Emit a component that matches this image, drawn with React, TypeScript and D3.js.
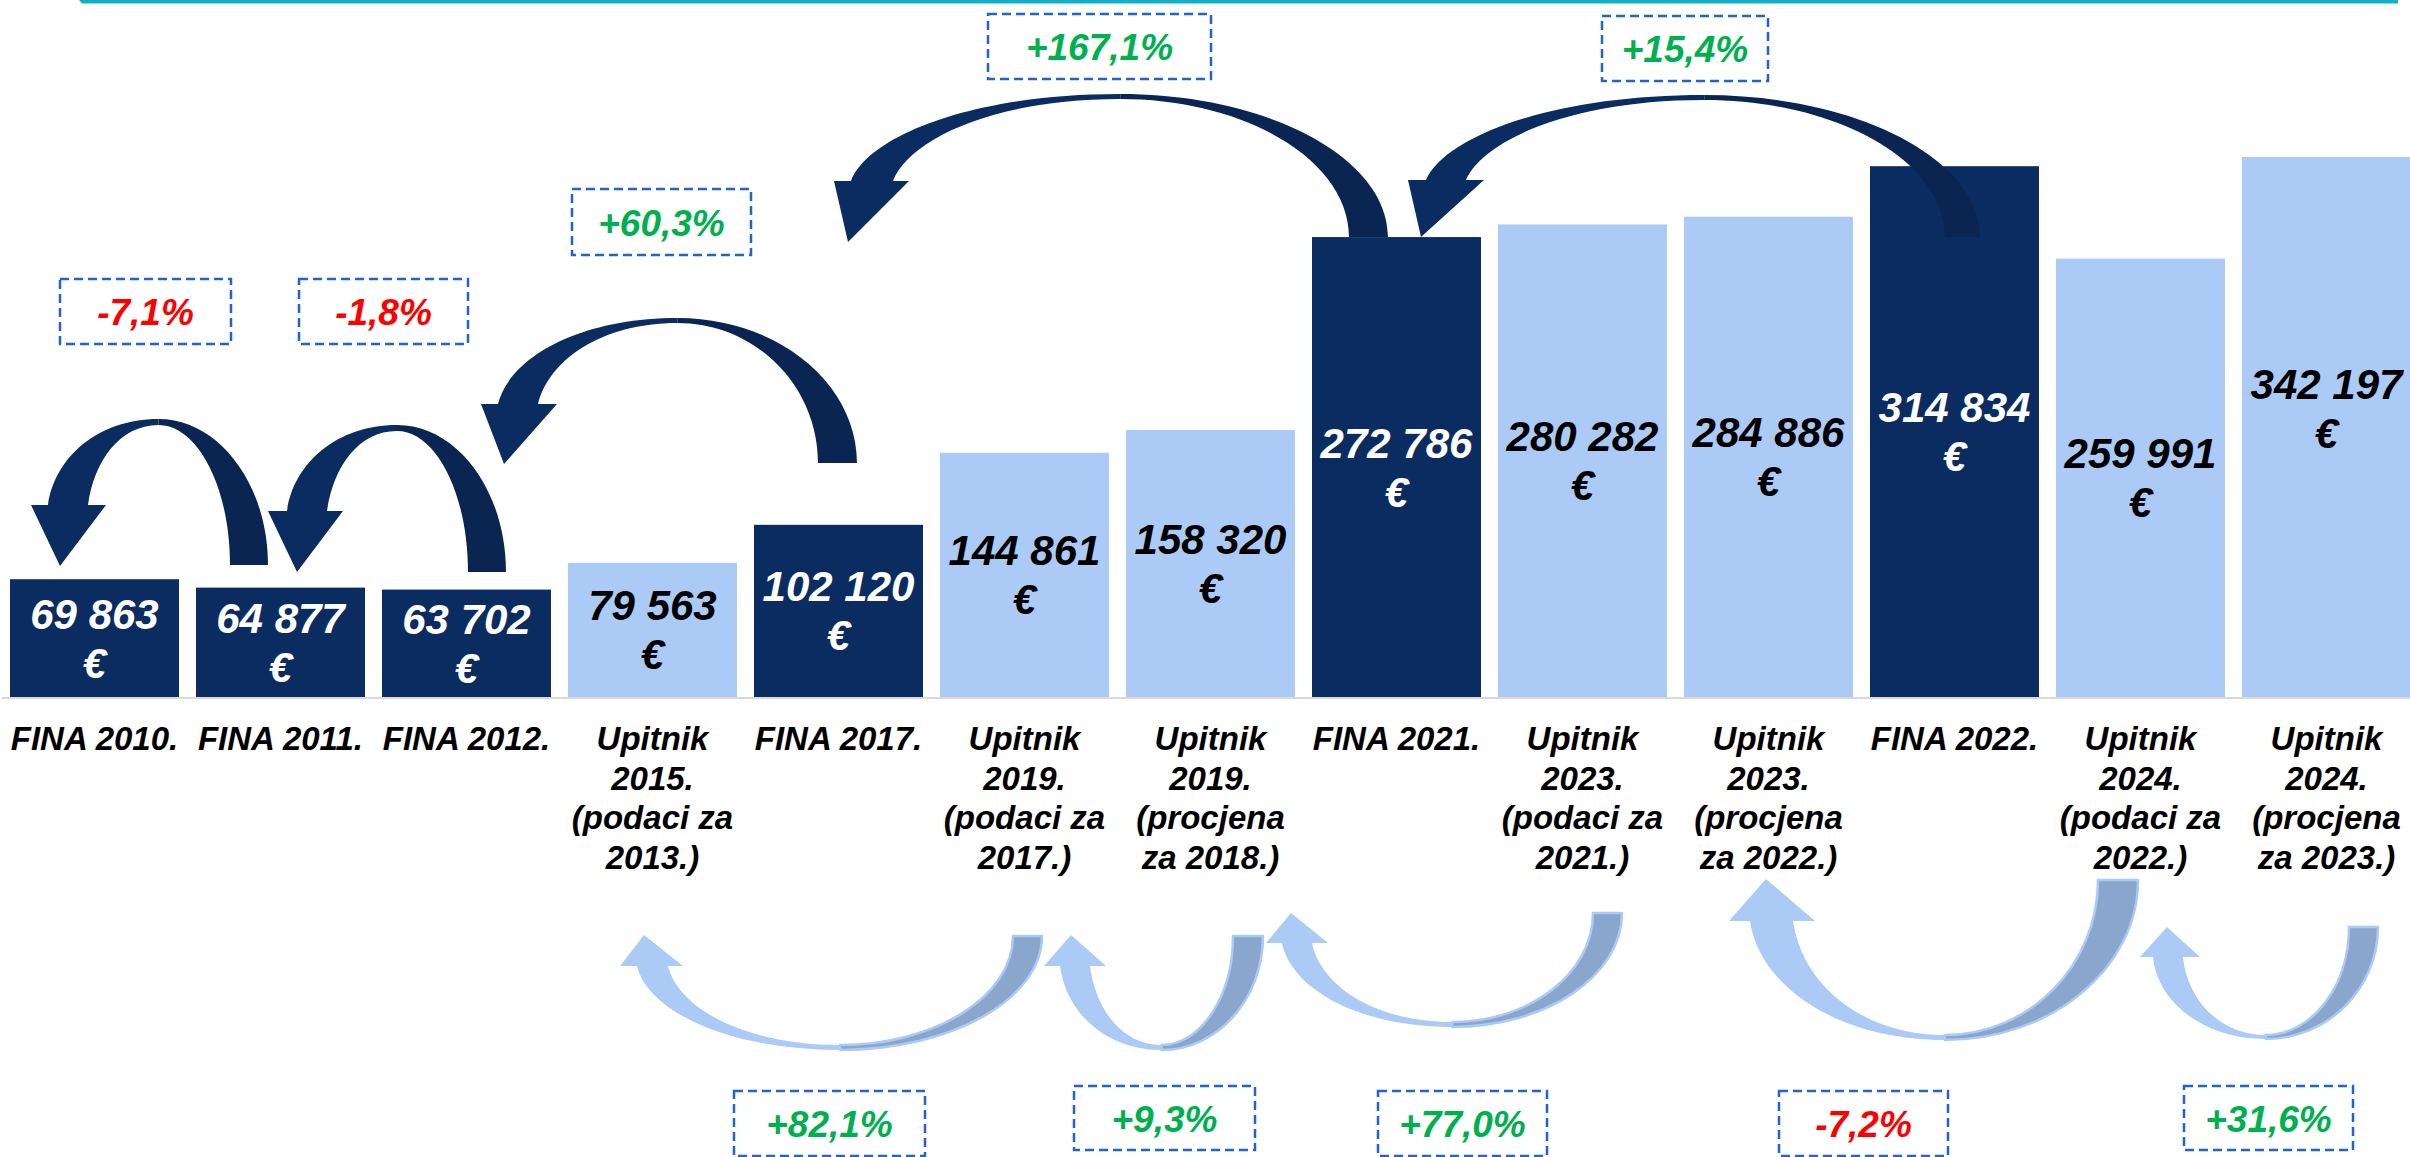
import React from "react";
import * as d3 from "d3";

// ---------- DATA ----------
const categoryLines: string[][] = [
  ["FINA 2010."],
  ["FINA 2011."],
  ["FINA 2012."],
  ["Upitnik", "2015.", "(podaci za", "2013.)"],
  ["FINA 2017."],
  ["Upitnik", "2019.", "(podaci za", "2017.)"],
  ["Upitnik", "2019.", "(procjena", "za 2018.)"],
  ["FINA 2021."],
  ["Upitnik", "2023.", "(podaci za", "2021.)"],
  ["Upitnik", "2023.", "(procjena", "za 2022.)"],
  ["FINA 2022."],
  ["Upitnik", "2024.", "(podaci za", "2022.)"],
  ["Upitnik", "2024.", "(procjena", "za 2023.)"],
];
const sources = ["FINA", "FINA", "FINA", "Upitnik", "FINA", "Upitnik", "Upitnik", "FINA", "Upitnik", "Upitnik", "FINA", "Upitnik", "Upitnik"];
const values = [69863, 64877, 63702, 79563, 102120, 144861, 158320, 272786, 280282, 284886, 314834, 259991, 342197];
// bar heights as drawn in the picture (last bar is drawn shorter than its label)
const barValues = [69863, 64877, 63702, 79563, 102120, 144861, 158320, 272786, 280282, 284886, 314834, 259991, 320300];

// change arrows: from -> to, with their labels
const topArrows = [
  { from: 1, to: 0, label: "-7,1%" },
  { from: 2, to: 1, label: "-1,8%" },
  { from: 4, to: 2, label: "+60,3%" },
  { from: 7, to: 4, label: "+167,1%" },
  { from: 10, to: 7, label: "+15,4%" },
];
const bottomArrows = [
  { from: 5, to: 3, label: "+82,1%" },
  { from: 6, to: 5, label: "+9,3%" },
  { from: 8, to: 6, label: "+77,0%" },
  { from: 11, to: 9, label: "-7,2%" },
  { from: 12, to: 11, label: "+31,6%" },
];

// ---------- LAYOUT (annotation placement, offsets from bar centres) ----------
const topLayout = [
  { tIn: -50.5, tOut: -12.5, tY: 565, mO: 419, mI: 425, sOut: -46.5, sIn: -6.5, hY: 505, wL: -63.5, wR: 11.5, tipDx: -34.5, tipY: 566, box: [145.5, 311.5, 171, 65] },
  { tIn: 1.5, tOut: 39.5, tY: 572, mO: 425, mI: 431, sOut: 6.5, sIn: 46.5, hY: 511, wL: -12.5, wR: 62.5, tipDx: 16.5, tipY: 572, box: [383.5, 311.5, 169, 65] },
  { tIn: -20.5, tOut: 18.5, tY: 463, mO: 318, mI: 323, sOut: 31.5, sIn: 71.5, hY: 404, wL: 14.5, wR: 90.5, tipDx: 37.5, tipY: 464, box: [661.5, 222, 179, 66] },
  { tIn: -47.5, tOut: -8.5, tY: 237, mO: 94, mI: 99, sOut: 12.5, sIn: 54.5, hY: 181, wL: -4.5, wR: 70.5, tipDx: 9.5, tipY: 242, box: [1099.5, 46.5, 223, 65] },
  { tIn: -9.5, tOut: 25.5, tY: 237, mO: 95, mI: 100, sOut: 29.5, sIn: 69.5, hY: 180, wL: 11.5, wR: 87.5, tipDx: 24.5, tipY: 237, box: [1685, 48.5, 166, 65] },
];
const bottomLayout = [
  { tIn: -11.5, tOut: 17.5, tY: 936, mO: 1050, mI: 1045, sOut: -15.5, sIn: 15.5, hY: 966, wL: -32.5, wR: 30.5, tipDx: -8.5, tipY: 935, box: [829.5, 1123.5, 191, 65] },
  { tIn: 22.5, tOut: 52.5, tY: 936, mO: 1050, mI: 1045, sOut: 35.5, sIn: 65.5, hY: 966, wL: 19.5, wR: 81.5, tipDx: 46.5, tipY: 935, box: [1164.5, 1118, 181, 64] },
  { tIn: 10.5, tOut: 39.5, tY: 913, mO: 1027, mI: 1022, sOut: 71.5, sIn: 101.5, hY: 943, wL: 55.5, wR: 117.5, tipDx: 80.5, tipY: 913, box: [1462.5, 1123.5, 169, 65] },
  { tIn: -42.5, tOut: -2.5, tY: 880, mO: 1040, mI: 1035, sOut: -18.5, sIn: 24.5, hY: 921, wL: -39.5, wR: 46.5, tipDx: -2.5, tipY: 879, box: [1863.5, 1123.5, 169, 65] },
  { tIn: 22.5, tOut: 51.5, tY: 927, mO: 1039, mI: 1035, sOut: 12.5, sIn: 42.5, hY: 957, wL: -0.5, wR: 59.5, tipDx: 26.5, tipY: 927, box: [2268.5, 1118, 169, 64] },
];

const W = 2410;
const H = 1157;
const BASE = 697;
const DARK = "#0b2c60";
const DARK_BACK = "#0a2551";
const LIGHT = "#abcaf6";
const LIGHT_BACK = "#8ba6cc";
const FONT = "'Liberation Sans', Arial, sans-serif";

function ribbon(g: any) {
  const k = 0.5523;
  const midX = g.midX;
  const back = d3.path();
  back.moveTo(g.tailOut, g.tailY);
  back.bezierCurveTo(g.tailOut, g.tailY + (g.mO - g.tailY) * k, midX + (g.tailOut - midX) * k, g.mO, midX, g.mO);
  back.lineTo(midX, g.mI);
  back.bezierCurveTo(midX + (g.tailIn - midX) * k, g.mI, g.tailIn, g.tailY + (g.mI - g.tailY) * k, g.tailIn, g.tailY);
  back.closePath();

  const bc = (g.wingL + g.wingR) / 2;
  let dx = g.tipX - bc;
  let dy = g.tipY - g.hY;
  const len = Math.hypot(dx, dy);
  dx /= len;
  dy /= len;
  const hO = Math.abs(g.hY - g.mO) * k;
  const hI = Math.abs(g.hY - g.mI) * k;
  const front = d3.path();
  front.moveTo(g.shaftOut, g.hY);
  front.bezierCurveTo(g.shaftOut - dx * hO, g.hY - dy * hO, midX - (midX - g.shaftOut) * k, g.mO, midX, g.mO);
  front.lineTo(midX, g.mI);
  front.bezierCurveTo(midX - (midX - g.shaftIn) * k, g.mI, g.shaftIn - dx * hI, g.hY - dy * hI, g.shaftIn, g.hY);
  front.lineTo(g.wingR, g.hY);
  front.lineTo(g.tipX, g.tipY);
  front.lineTo(g.wingL, g.hY);
  front.closePath();
  return { back: back.toString(), front: front.toString() };
}

export default function App() {
  const x = d3
    .scaleBand<number>()
    .domain(d3.range(values.length))
    .range([1.5, 2419.5])
    .paddingInner(0.0914)
    .paddingOuter(0.0457);
  const y = d3.scaleLinear().domain([0, 400000]).range([BASE, BASE - 674.4]);
  const bw = x.bandwidth();
  const cx = (i: number) => (x(i) as number) + bw / 2;
  const fmt = (v: number) => d3.format(",")(v).replace(/,/g, " ");

  const buildArrow = (a: any, l: any) => {
    const fc = cx(a.from);
    const tc = cx(a.to);
    const tailIn = fc + l.tIn;
    const tailOut = fc + l.tOut;
    const shaftOut = tc + l.sOut;
    const shaftIn = tc + l.sIn;
    const midX = ((tailIn + tailOut) / 2 + (shaftOut + shaftIn) / 2) / 2;
    return ribbon({
      tailIn,
      tailOut,
      tailY: l.tY,
      mO: l.mO,
      mI: l.mI,
      midX,
      shaftOut,
      shaftIn,
      hY: l.hY,
      wingL: tc + l.wL,
      wingR: tc + l.wR,
      tipX: tc + l.tipDx,
      tipY: l.tipY,
    });
  };

  const pctBox = (label: string, box: number[], key: string) => {
    const [bx, by, bwid, bh] = box;
    const neg = label.startsWith("-");
    return (
      <g key={key}>
        <rect
          x={bx - bwid / 2}
          y={by - bh / 2}
          width={bwid}
          height={bh}
          fill="none"
          stroke="#1f64d2"
          strokeWidth={2.5}
          strokeDasharray="9 5"
        />
        <text
          x={bx}
          y={by + 13.5}
          textAnchor="middle"
          fontFamily={FONT}
          fontWeight="bold"
          fontStyle="italic"
          fontSize={37}
          fill={neg ? "#ff0000" : "#00b050"}
        >
          {label}
        </text>
      </g>
    );
  };

  return (
    <svg
      width={W}
      height={H}
      viewBox={`0 0 ${W} ${H}`}
      style={{ position: "absolute", left: 0, top: 0, background: "#ffffff" }}
    >
      <rect x={0} y={0} width={W} height={H} fill="#ffffff" />
      {/* teal top line */}
      <path d={`M79,0 L2398,0 L2398,3.5 L82,3.5 Z`} fill="#12b0c6" />

      {/* bars */}
      {barValues.map((v, i) => (
        <rect
          key={"b" + i}
          x={x(i)}
          y={y(v)}
          width={bw}
          height={BASE - y(v)}
          fill={sources[i] === "FINA" ? DARK : LIGHT}
        />
      ))}

      {/* axis line */}
      <line x1={2} x2={W} y1={698} y2={698} stroke="#d9d9d9" strokeWidth={2} />

      {/* bar labels */}
      {values.map((v, i) => {
        const c = (y(v) + BASE) / 2;
        const col = sources[i] === "FINA" ? "#ffffff" : "#000000";
        return (
          <g key={"l" + i} fontFamily={FONT} fontWeight="bold" fontStyle="italic" fontSize={42} fill={col} textAnchor="middle">
            <text x={cx(i)} y={c - 9.5}>{fmt(v)}</text>
            <text x={cx(i)} y={c + 39.5}>€</text>
          </g>
        );
      })}

      {/* category labels */}
      {categoryLines.map((lines, i) => (
        <text
          key={"c" + i}
          x={cx(i)}
          y={750}
          textAnchor="middle"
          fontFamily={FONT}
          fontWeight="bold"
          fontStyle="italic"
          fontSize={33}
          fill="#000000"
        >
          {lines.map((ln, j) => (
            <tspan key={j} x={cx(i)} y={750 + j * 39.6}>
              {ln}
            </tspan>
          ))}
        </text>
      ))}

      {/* top (dark) arrows */}
      {topArrows.map((a, i) => {
        const p = buildArrow(a, topLayout[i]);
        return (
          <g key={"ta" + i}>
            <path d={p.back} fill={DARK_BACK} />
            <path d={p.front} fill={DARK} />
          </g>
        );
      })}

      {/* bottom (light) arrows */}
      {bottomArrows.map((a, i) => {
        const p = buildArrow(a, bottomLayout[i]);
        return (
          <g key={"ba" + i}>
            <path d={p.back} fill={LIGHT_BACK} stroke={LIGHT} strokeWidth={2.5} strokeLinejoin="round" />
            <path d={p.front} fill={LIGHT} />
          </g>
        );
      })}

      {/* percentage boxes */}
      {topArrows.map((a, i) => pctBox(a.label, topLayout[i].box, "tb" + i))}
      {bottomArrows.map((a, i) => pctBox(a.label, bottomLayout[i].box, "bb" + i))}
    </svg>
  );
}
